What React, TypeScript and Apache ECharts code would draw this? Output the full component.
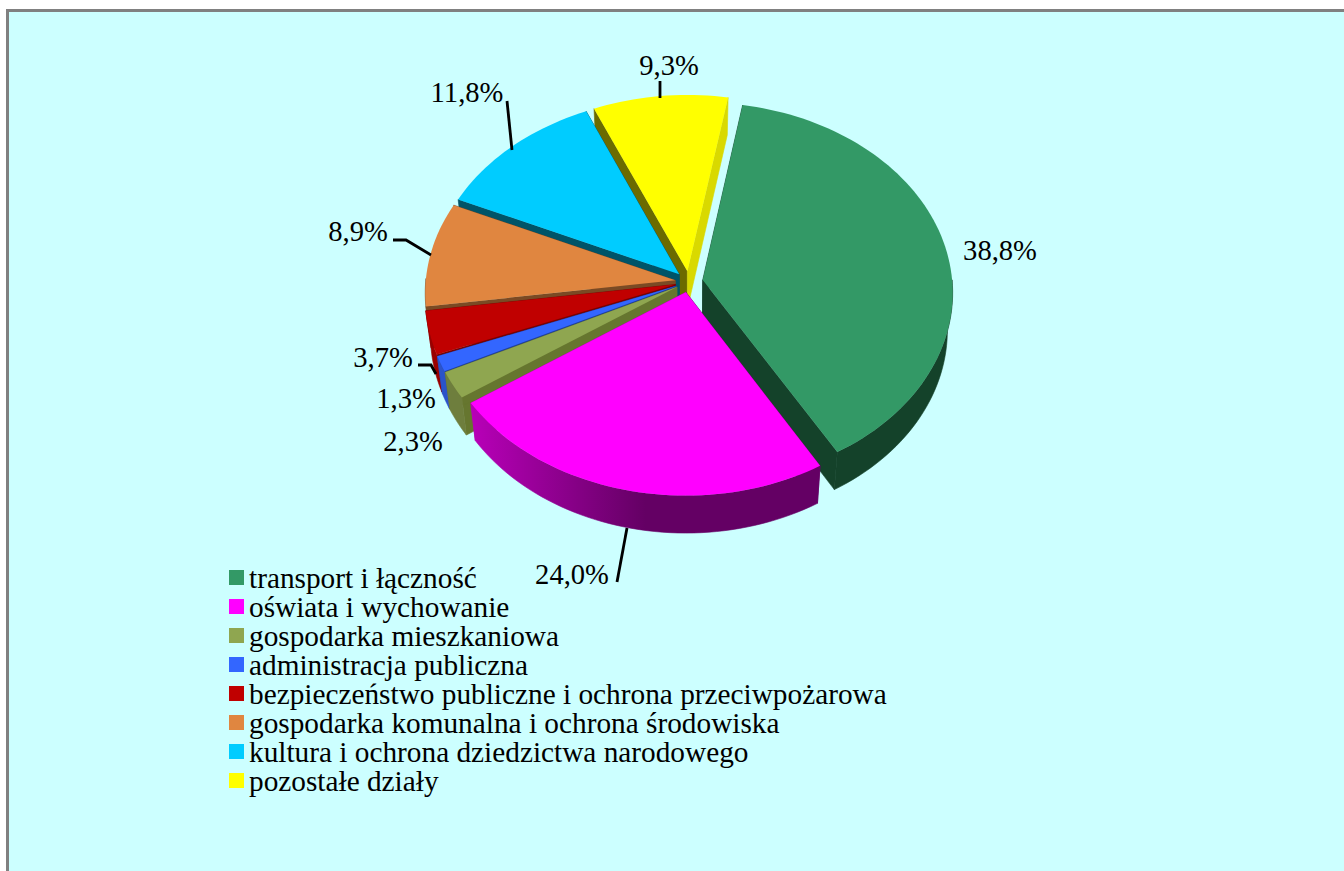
import React, { useEffect, useRef } from "react";
import * as echarts from "echarts";

const categories = [
  "transport i łączność",
  "oświata i wychowanie",
  "gospodarka mieszkaniowa",
  "administracja publiczna",
  "bezpieczeństwo publiczne i ochrona przeciwpożarowa",
  "gospodarka komunalna i ochrona środowiska",
  "kultura i ochrona dziedzictwa narodowego",
  "pozostałe działy",
];
const values = [38.8, 24.0, 2.3, 1.3, 3.7, 8.9, 11.8, 9.3];

const topColors = ["#339966", "#ff00ff", "#8fa650", "#3366ff", "#c00000", "#e08640", "#00ccff", "#ffff00"];
const startWallColors = ["#14422a", "#660066", "#66762f", "#1f3f9f", "#7a0000", "#7a4a24", "#005468", "#6b6b00"];
const endWallColors = ["#14422a", "#b800b8", "#66762f", "#1f3f9f", "#7a0000", "#7a4a24", "#005468", "#d9d900"];
const rimLight = ["#14422a", "#b800b8", "#6e7e3d", "#2b53c9", "#9a0000", "#7a4a24", "#005468", "#d9d900"];
const rimDark = ["#14422a", "#640064", "#6e7e3d", "#2b53c9", "#9a0000", "#7a4a24", "#005468", "#d9d900"];

// layout of the data labels: text centre, then the leader line
const labelCentres: number[][] = [[1000, 250], [572, 574], [413, 441], [406, 398], [383, 357], [358, 231], [467, 92], [669, 65]];
const leaders: number[][][] = [
  [],
  [[617, 582], [627, 528]],
  [],
  [],
  [[418, 365], [431, 365], [436, 374]],
  [[393, 240], [406, 240], [431, 255]],
  [[507, 101], [512, 150]],
  [[660, 81], [660, 98]],
];

const FONT = '"Liberation Serif", "Times New Roman", serif';
const CX = 689, CY = 281.8, R = 249.5, QR = 189, K = 0.064, DEPTH = 37.5, CONVERGE = 0.02;
const EXPLODE = 0.056, START_DEG = 10;

const project = (u: number, v: number, down: number): number[] => {
  const s = 1 / (1 - K * v);
  const x = CX + R * u * s;
  const y = CY + QR * v * s;
  return down ? [CX + (x - CX) * (1 - CONVERGE), y + DEPTH] : [x, y];
};

const total = values.reduce((a, b) => a + b, 0);
const spans = values.map((_, i) => {
  const before = values.slice(0, i).reduce((a, b) => a + b, 0);
  const a0 = (START_DEG + (before / total) * 360) * (Math.PI / 180);
  const a1 = a0 + (values[i] / total) * 2 * Math.PI;
  return { a0, a1, mid: (a0 + a1) / 2 };
});
const drawOrder = values.map((_, i) => i).sort((p, q) => -Math.cos(spans[q].mid) + Math.cos(spans[p].mid)).reverse();

const renderSlice = (i: number) => () => {
  const { a0, a1, mid } = spans[i];
  const ou = EXPLODE * Math.sin(mid);
  const ov = -EXPLODE * Math.cos(mid);
  const steps = Math.max(6, Math.ceil((a1 - a0) / 0.03));
  const angles: number[] = [];
  for (let k = 0; k <= steps; k++) angles.push(a0 + ((a1 - a0) * k) / steps);
  const rimAt = (t: number, down: number) => project(ou + Math.sin(t), ov - Math.cos(t), down);
  const topRim = angles.map((t) => rimAt(t, 0));
  // only the part of the outer wall that faces the viewer is drawn
  const facing = angles.filter((t) => Math.cos(t) < 0.02);
  const apex = project(ou, ov, 0);
  const apexLow = project(ou, ov, 1);
  const children: any[] = [];
  children.push({
    type: "polygon",
    shape: { points: [apex, topRim[0], rimAt(a0, 1), apexLow] },
    style: { fill: startWallColors[i], stroke: startWallColors[i], lineWidth: 0.6 },
  });
  children.push({
    type: "polygon",
    shape: { points: [apex, topRim[steps], rimAt(a1, 1), apexLow] },
    style: { fill: endWallColors[i], stroke: endWallColors[i], lineWidth: 0.6 },
  });
  if (facing.length > 1) {
    const shade =
      rimLight[i] === rimDark[i]
        ? rimDark[i]
        : new echarts.graphic.LinearGradient(0, 0, 1, 0, [
            { offset: 0, color: rimLight[i] },
            { offset: 0.5, color: rimDark[i] },
            { offset: 1, color: rimDark[i] },
          ]);
    children.push({
      type: "polygon",
      shape: {
        points: facing.map((t) => rimAt(t, 0)).concat(facing.slice().reverse().map((t) => rimAt(t, 1))),
      },
      style: { fill: shade, stroke: shade, lineWidth: 0.6 },
    });
  }
  children.push({
    type: "polygon",
    shape: { points: [apex].concat(topRim) },
    style: { fill: topColors[i] },
  });
  if (leaders[i].length) {
    children.push({
      type: "polyline",
      shape: { points: leaders[i] },
      style: { stroke: "#000", lineWidth: 2.8, fill: "none" },
    });
  }
  children.push({
    type: "text",
    x: labelCentres[i][0],
    y: labelCentres[i][1],
    style: {
      text: values[i].toFixed(1).replace(".", ",") + "%",
      fill: "#000",
      font: `28.6px ${FONT}`,
      align: "center",
      verticalAlign: "middle",
    },
  });
  return { type: "group", children };
};

export default function App() {
  const ref = useRef<HTMLDivElement>(null);
  useEffect(() => {
    document.body.style.margin = "0";
    const chart = echarts.init(ref.current!, undefined, { renderer: "svg" });
    chart.setOption({
      animation: false,
      legend: {
        data: categories,
        orient: "vertical",
        left: 229,
        top: 563,
        padding: 0,
        icon: "rect",
        itemWidth: 15,
        itemHeight: 15,
        itemGap: 0,
        selectedMode: false,
        textStyle: { fontFamily: FONT, fontSize: 29.3, color: "#000" },
      },
      series: drawOrder.map((i) => ({
        type: "custom",
        name: categories[i],
        coordinateSystem: "none",
        silent: true,
        itemStyle: { color: topColors[i] },
        data: [[values[i]]],
        renderItem: renderSlice(i),
      })),
    });
    return () => chart.dispose();
  }, []);
  return (
    <div style={{ position: "fixed", left: 0, top: 0, width: 1344, height: 871, background: "#fff", overflow: "hidden" }}>
      <div
        style={{
          position: "absolute",
          left: 6,
          top: 9,
          right: 0,
          bottom: 0,
          background: "#ccffff",
          borderLeft: "3px solid #808080",
          borderTop: "3px solid #808080",
        }}
      />
      <div ref={ref} style={{ position: "absolute", left: 0, top: 0, width: 1344, height: 871 }} />
    </div>
  );
}
